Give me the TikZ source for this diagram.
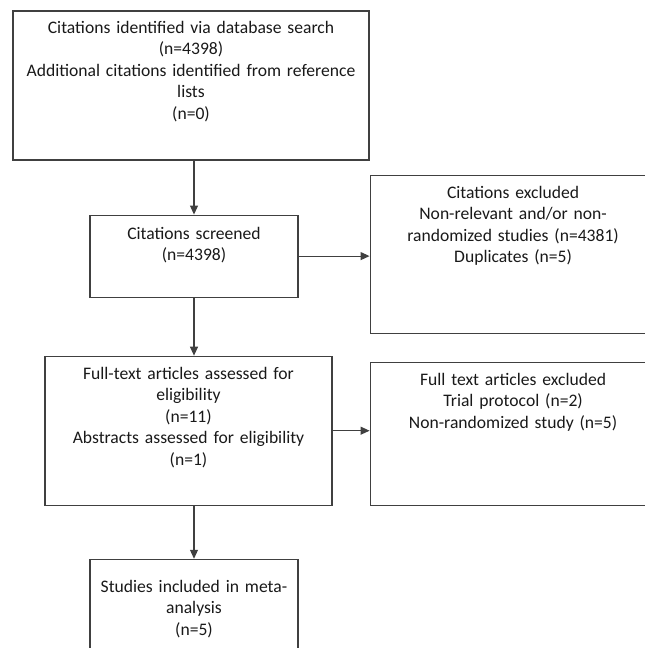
\documentclass[tikz,border=0pt]{standalone}
\usepackage{fontspec}
\setmainfont{Carlito}
\usetikzlibrary{arrows.meta, positioning}

\tikzset{
    box/.style={draw=black!75, line width=1.1pt, inner sep=0pt, align=center, text=black!90,
        font=\fontsize{17.6}{21.5}\selectfont},
    arr/.style={draw=black!75, line width=1.1pt, -{Triangle[length=9pt,width=8pt]}}
}

\begin{document}
\begin{tikzpicture}[x=1pt, y=1pt]
    \useasboundingbox (0,0) rectangle (645,-648);
    \clip (0,0) rectangle (645,-648);
    \node[box, text width=356pt, text height=22pt, text depth=127pt] (search) at (191,-85.5)
        {Citations identified via database search\\(n=4398)\\Additional citations identified from reference\\lists\\(n=0)};
    \node[box, text width=208pt, text height=24pt, text depth=58pt] (screened) [below=54pt of search, xshift=3pt]
        {Citations screened\\(n=4398)};
    \node[box, text width=286pt, text height=23pt, text depth=135pt] (excl1) [right=71pt of screened, yshift=2pt]
        {Citations excluded\\Non-relevant and/or non-\\randomized studies (n=4381)\\Duplicates (n=5)};
    \node[box, text width=287pt, text height=23pt, text depth=126pt] (full) [below=58pt of screened, xshift=-5.5pt]
        {Full-text articles assessed for\\eligibility\\(n=11)\\Abstracts assessed for eligibility\\(n=1)};
    \node[box, text width=286pt, text height=23pt, text depth=120pt] (excl2) [right=37pt of full, yshift=-3pt]
        {Full text articles excluded\\Trial protocol (n=2)\\Non-randomized study (n=5)};
    \node[box, text width=208pt, text height=33pt, text depth=81pt] (studies) [below=53pt of full, xshift=5.5pt]
        {Studies included in meta-\\analysis\\(n=5)};
    \draw[arr] (search.south -| screened.north) -- (screened.north);
    \draw[arr] (screened.east) -- (screened.east -| excl1.west);
    \draw[arr] (screened.south) -- (screened.south |- full.north);
    \draw[arr] (full.east) -- (full.east -| excl2.west);
    \draw[arr] (full.south -| studies.north) -- (studies.north);
\end{tikzpicture}
\end{document}
